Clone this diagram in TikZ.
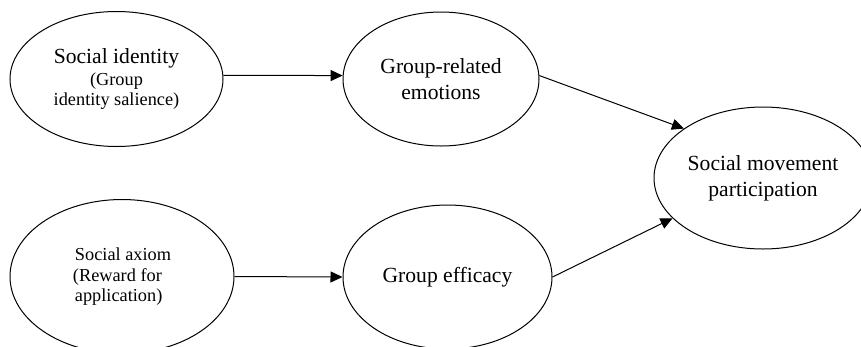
\documentclass[tikz,border=0pt]{standalone}
\usepackage{fontspec}
\setmainfont{Liberation Serif}
\usetikzlibrary{shapes.geometric,arrows.meta}
\newcommand{\bigtxt}{\fontsize{21.6}{25.7}\selectfont}
\newcommand{\smalltxt}{\fontsize{18.3}{20}\selectfont}
\tikzset{
  oval/.style={ellipse, draw=black, line width=1pt, inner sep=0pt, text=black},
  link/.style={line width=1pt, -{Triangle[length=12pt,width=11pt]}}
}
\begin{document}
\begin{tikzpicture}[x=1pt,y=-1pt]
\useasboundingbox (0,0) rectangle (861,346);
\clip (0,0) rectangle (861,346);
\node[oval, minimum width=213pt, minimum height=135pt, align=center, font=\smalltxt] (e1) at (116.5,79)
  {{\bigtxt Social identity}\\[2.3pt](Group\\identity salience)};
\node[oval, minimum width=196pt, minimum height=134pt, align=center, font=\bigtxt] (e2) at (441,79)
  {Group-related\\emotions};
\node[oval, minimum width=224pt, minimum height=154pt, align=left, font=\smalltxt] (e3) at (122,276.5)
  {\hspace*{2pt}Social axiom\\[1pt](Reward for\\\hspace*{2pt}application)};
\node[oval, minimum width=209pt, minimum height=144pt, align=center, font=\bigtxt] (e4) at (447.5,277)
  {Group efficacy};
\node[oval, minimum width=218pt, minimum height=142pt, align=center, font=\bigtxt] (e5) at (763,178)
  {Social movement\\participation};
\draw[link] (e1.2) -- (e2.178);
\draw[link] (e3.east) -- (e4.west);
\draw[link] (e2.2) -- (e5.148);
\draw[link] (e4.east) -- (e5.204);
\end{tikzpicture}
\end{document}
